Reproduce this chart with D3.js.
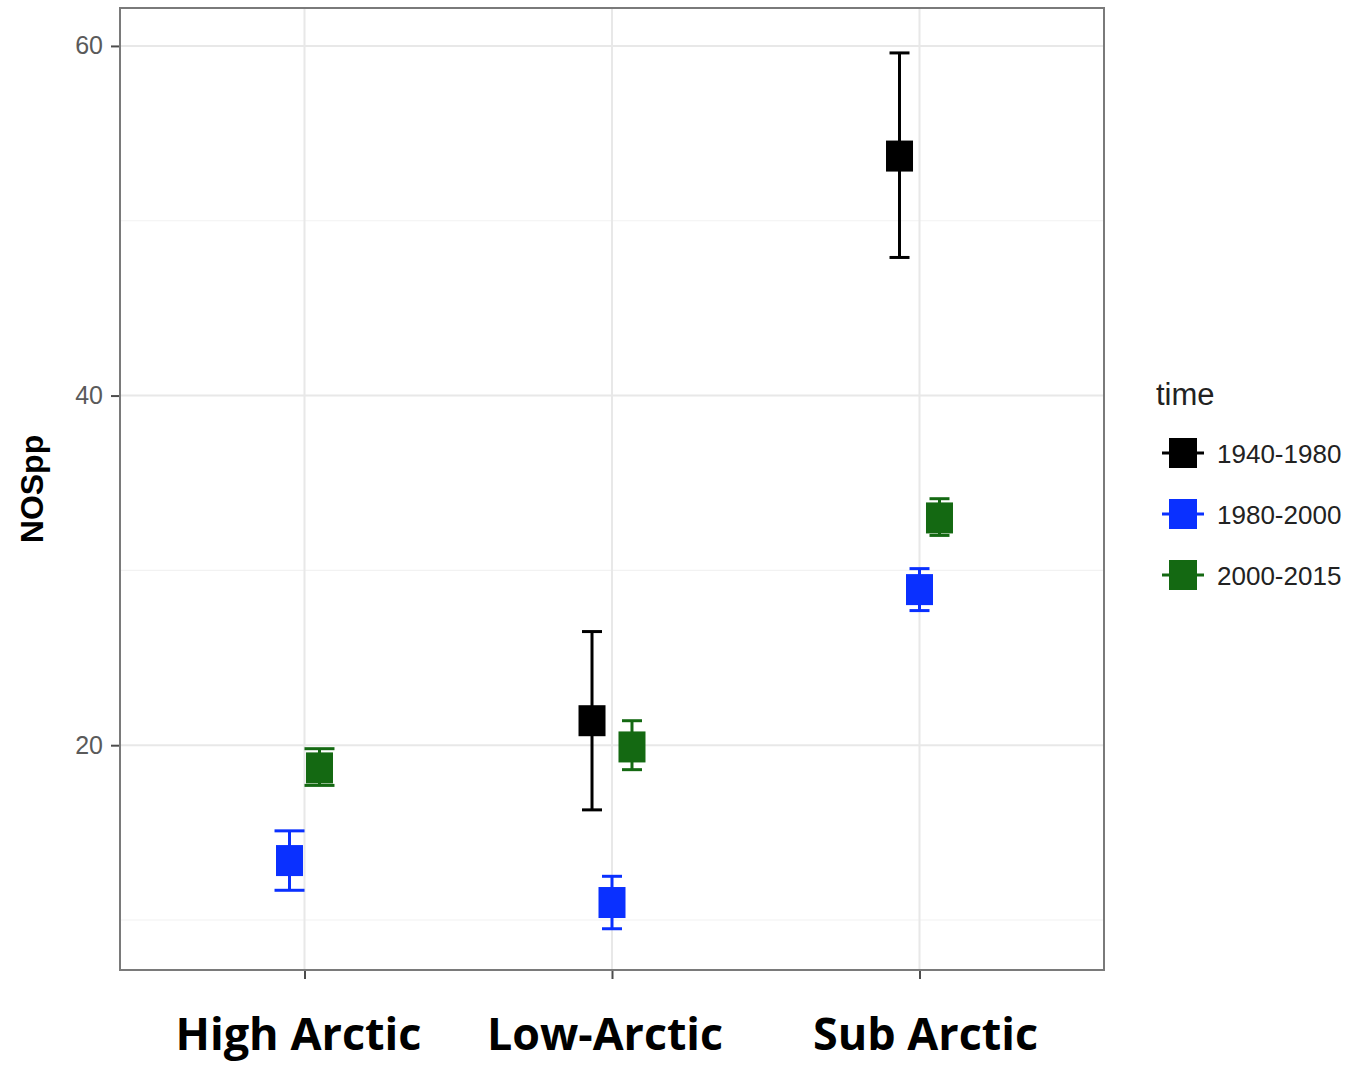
<!DOCTYPE html>
<html>
<head>
<meta charset="utf-8">
<script src="https://cdn.jsdelivr.net/npm/d3@7"></script>
<style>
  html, body { margin: 0; padding: 0; background: #fff; }
  svg { display: block; }
</style>
</head>
<body>
<svg id="chart" width="1351" height="1065"></svg>
<script>
// NOSpp by region and time period, mean with error bars (ggplot-style, dodged)
const REGIONS = ["High Arctic", "Low-Arctic", "Sub Arctic"];
const PERIODS = ["1940-1980", "1980-2000", "2000-2015"];
const PERIOD_COLOR = ["#000000", "#0a30ff", "#146912"];

const ptRegion = ["High Arctic", "High Arctic", "Low-Arctic", "Low-Arctic", "Low-Arctic", "Sub Arctic", "Sub Arctic", "Sub Arctic"];
const ptPeriod = ["1980-2000", "2000-2015", "1940-1980", "1980-2000", "2000-2015", "1940-1980", "1980-2000", "2000-2015"];
const ptMean   = [13.4, 18.7, 21.4, 11.0, 19.9, 53.7, 28.9, 33.0];
const ptLow    = [11.7, 17.7, 16.3,  9.5, 18.6, 47.9, 27.7, 32.0];
const ptHigh   = [15.1, 19.8, 26.5, 12.5, 21.4, 59.6, 30.1, 34.1];

const yMajor = [20, 40, 60];
const yMinor = [10, 30, 50];

const W = 1351, H = 1065;
const P = { l: 120, r: 1104, t: 8, b: 970 };
const svg = d3.select("#chart");

const x = d3.scalePoint().domain(REGIONS).range([P.l, P.r]).padding(0.6);
const y = d3.scaleLinear().domain([7.14, 62.17]).range([P.b, P.t]);
const color = d3.scaleOrdinal().domain(PERIODS).range(PERIOD_COLOR);
const dodgeW = 0.195 * x.step();

const points = ptMean.map((m, i) => ({
  region: ptRegion[i], period: ptPeriod[i], mean: m, lo: ptLow[i], hi: ptHigh[i],
}));
// per-region dodge bands
const dodge = {};
REGIONS.forEach((r) => {
  const present = PERIODS.filter((p) => points.some((d) => d.region === r && d.period === p));
  dodge[r] = d3.scaleBand().domain(present).range([-dodgeW / 2, dodgeW / 2]);
});
const px = (d) => x(d.region) + dodge[d.region](d.period) + dodge[d.region].bandwidth() / 2;

// ---- grid ----
const grid = svg.append("g");
grid.selectAll("line.minor").data(yMinor).join("line")
  .attr("x1", P.l).attr("x2", P.r).attr("y1", (d) => y(d)).attr("y2", (d) => y(d))
  .attr("stroke", "#f2f2f2").attr("stroke-width", 1.2);
grid.selectAll("line.major").data(yMajor).join("line")
  .attr("x1", P.l).attr("x2", P.r).attr("y1", (d) => y(d)).attr("y2", (d) => y(d))
  .attr("stroke", "#e8e8e8").attr("stroke-width", 2);
grid.selectAll("line.vx").data(REGIONS).join("line")
  .attr("x1", (d) => x(d)).attr("x2", (d) => x(d)).attr("y1", P.t).attr("y2", P.b)
  .attr("stroke", "#e8e8e8").attr("stroke-width", 2);

// ---- axes ----
const yAxis = svg.append("g").attr("transform", `translate(${P.l},0)`)
  .call(d3.axisLeft(y).tickValues(yMajor).tickSize(9).tickPadding(8));
yAxis.select(".domain").remove();
yAxis.selectAll("line").attr("stroke", "#4d4d4d").attr("stroke-width", 2);
yAxis.selectAll("text").attr("fill", "#5a5a5a")
  .style("font-family", "'Liberation Sans', Arial, sans-serif").style("font-size", "25px");

const xAxis = svg.append("g").attr("transform", `translate(0,${P.b})`)
  .call(d3.axisBottom(x).tickSize(9).tickFormat(""));
xAxis.select(".domain").remove();
xAxis.selectAll("line").attr("stroke", "#4d4d4d").attr("stroke-width", 2);

// region labels (set in a separate, condensed bold face under the axis)
svg.append("g").selectAll("text").data(REGIONS).join("text")
  .attr("x", (d, i) => x(d) + [-6, -7, 6][i]).attr("y", 1050)
  .attr("text-anchor", "middle")
  .attr("textLength", (d, i) => [246, 236, 225][i]).attr("lengthAdjust", "spacingAndGlyphs")
  .style("font-family", "'Open Sans', 'Noto Sans', sans-serif")
  .style("font-weight", 700).style("font-size", "44px").attr("fill", "#000")
  .text((d) => d);

// y title
svg.append("text")
  .attr("transform", "translate(43,489) rotate(-90)")
  .attr("text-anchor", "middle")
  .style("font-family", "'Liberation Sans', Arial, sans-serif")
  .style("font-weight", 700).style("font-size", "32px").attr("fill", "#000")
  .text("NOSpp");

// panel border
svg.append("rect").attr("x", P.l).attr("y", P.t)
  .attr("width", P.r - P.l).attr("height", P.b - P.t)
  .attr("fill", "none").attr("stroke", "#7a7a7a").attr("stroke-width", 2);

// ---- error bars + points ----
const MW = 27, MH = 31;
const marks = svg.append("g").selectAll("g").data(points).join("g")
  .attr("stroke", (d) => color(d.period)).attr("fill", (d) => color(d.period));
marks.append("line")
  .attr("x1", px).attr("x2", px).attr("y1", (d) => y(d.lo)).attr("y2", (d) => y(d.hi))
  .attr("stroke-width", 3);
["lo", "hi"].forEach((k) => {
  marks.append("line")
    .attr("x1", (d) => px(d) - dodge[d.region].bandwidth() / 2)
    .attr("x2", (d) => px(d) + dodge[d.region].bandwidth() / 2)
    .attr("y1", (d) => y(d[k])).attr("y2", (d) => y(d[k]))
    .attr("stroke-width", 3);
});
marks.append("rect")
  .attr("x", (d) => px(d) - MW / 2).attr("y", (d) => y(d.mean) - MH / 2)
  .attr("width", MW).attr("height", MH).attr("stroke", "none");

// ---- legend ----
const lg = svg.append("g");
lg.append("text").attr("x", 1156).attr("y", 405)
  .style("font-family", "'Liberation Sans', Arial, sans-serif").style("font-size", "31px")
  .attr("fill", "#222").text("time");
const item = lg.selectAll("g.item").data(PERIODS).join("g")
  .attr("transform", (d, i) => `translate(1183,${453 + i * 61})`);
item.append("line").attr("x1", -21).attr("x2", 21).attr("y1", 0).attr("y2", 0)
  .attr("stroke", (d) => color(d)).attr("stroke-width", 3);
item.append("rect").attr("x", -14).attr("y", -15).attr("width", 28).attr("height", 30)
  .attr("fill", (d) => color(d));
item.append("text").attr("x", 34).attr("y", 10)
  .style("font-family", "'Liberation Sans', Arial, sans-serif").style("font-size", "26px")
  .attr("fill", "#222").text((d) => d);
</script>
</body>
</html>
